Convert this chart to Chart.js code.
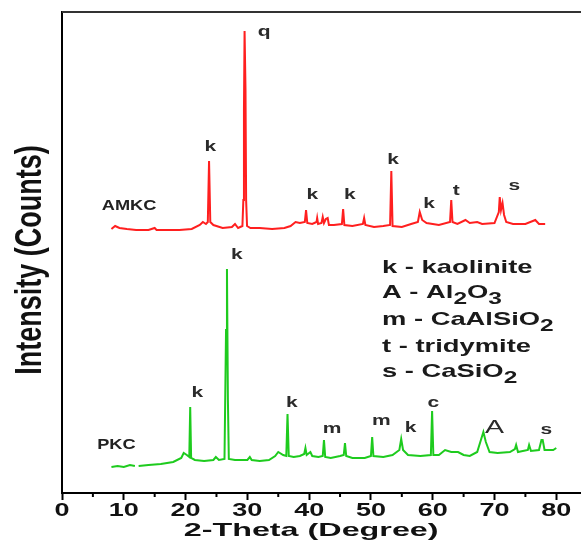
<!DOCTYPE html>
<html>
<head>
<meta charset="utf-8">
<title>XRD patterns</title>
<script src="https://cdn.jsdelivr.net/npm/chart.js@4.4.1/dist/chart.umd.min.js"></script>
<style>
  html, body { margin: 0; padding: 0; background: #fff; }
  canvas { display: block; }
</style>
</head>
<body>
<canvas id="chart" width="581" height="541"></canvas>
<script>
// 2-theta / intensity pairs for the two samples (counts are arbitrary, stacked offsets)
const amkcAngles = [8.0, 8.6, 9.3, 10.5, 12, 14, 15, 15.3, 17, 19, 21, 22.3, 22.8, 23.3, 23.6, 23.8, 24.0, 24.5,
  26, 27.5, 28, 28.5, 29.2, 29.35, 29.45, 29.55, 29.7, 29.8, 29.95, 30.5, 32, 34, 36, 37, 37.8, 38.5,
  39.3, 39.5, 39.7, 40.5, 41.2, 41.3, 41.45, 42.0, 42.2, 42.4, 42.7, 43.0, 43.2, 44, 45.3, 45.5, 45.7,
  47, 48.7, 48.9, 49.1, 50.5, 52, 53.1, 53.3, 53.5, 55, 56.5, 57.6, 57.9, 58.3, 59, 61, 62.8, 63.0, 63.2,
  64, 65.3, 66, 67.2, 68, 70, 70.7, 70.85, 71.05, 71.3, 71.55, 71.9, 73, 75, 76.6, 77.2, 78.2];
const amkcCounts = [2640, 2670, 2650, 2640, 2630, 2630, 2650, 2630, 2630, 2630, 2640, 2680, 2710, 2690, 2710, 3320, 2710, 2680,
  2650, 2660, 2690, 2650, 2670, 2930, 3830, 4620, 4030, 2930, 2670, 2650, 2650, 2640, 2650, 2670, 2710, 2700,
  2710, 2830, 2700, 2690, 2710, 2750, 2690, 2700, 2760, 2700, 2740, 2750, 2680, 2680, 2690, 2840, 2680,
  2670, 2690, 2750, 2680, 2660, 2670, 2680, 3220, 2670, 2660, 2690, 2710, 2810, 2730, 2700, 2680, 2710, 2930, 2710,
  2690, 2730, 2700, 2710, 2690, 2700, 2810, 2960, 2830, 2900, 2780, 2710, 2690, 2690, 2730, 2690, 2690];

const pkcAngles = [8.0, 9, 10, 11, 11.8, 12.1, 12.4, 14, 16, 18, 19.3, 19.7, 20.2, 20.6, 20.75, 20.9, 21.5, 23, 24.5,
  24.9, 25.4, 26.3, 26.55, 26.7, 26.85, 27.0, 28, 30, 30.4, 30.7, 32, 33.5, 34.5, 35.0, 35.8, 36.3, 36.5,
  36.7, 37.5, 38.5, 39.2, 39.4, 39.6, 40.2, 40.5, 41.5, 42.2, 42.4, 42.6, 43.5, 45, 45.6, 45.8, 46.0, 47,
  49, 50.0, 50.2, 50.4, 52, 53.5, 54.6, 54.9, 55.2, 56, 58, 59.7, 59.9, 60.1, 61, 62, 63, 64.1, 65, 66,
  67.2, 67.8, 68.2, 68.6, 69.2, 70.5, 72.5, 73.3, 73.5, 73.8, 75.4, 75.6, 75.9, 77.2, 77.6, 77.8, 78.1,
  79.5, 80.0];
const pkcCounts = [260, 270, 260, 280, 270, null, 270, 280, 290, 310, 350, 400, 380, 360, 860, 350, 330, 320, 330,
  360, 330, 340, 1630, 2240, 930, 340, 330, 330, 360, 330, 320, 330, 370, 410, 380, 370, 790,
  370, 360, 370, 390, 450, 380, 410, 370, 360, 370, 530, 360, 350, 370, 380, 500, 370, 350,
  350, 370, 560, 370, 360, 380, 430, 540, 430, 380, 370, 380, 820, 380, 380, 430, 410, 410, 380, 370,
  410, 530, 610, 510, 410, 400, 410, 440, 480, 410, 430, 480, 420, 430, 530, 530, 430,
  430, 450];

// phase letters marked above the peaks
const amkcMarks = ['k', 'q', 'k', 'k', 'k', 'k', 't', 's'];
const amkcMarkAngles = [24.0, 32.7, 40.5, 46.6, 53.6, 59.4, 63.8, 73.2];
const amkcMarkCounts = [3460, 4610, 2980, 2980, 3330, 2890, 3020, 3070];

const pkcMarks = ['k', 'k', 'k', 'm', 'm', 'k', 'c', 'A', 's'];
const pkcMarkAngles = [21.9, 28.3, 37.2, 43.7, 51.7, 56.4, 60.1, 70.0, 78.4];
const pkcMarkCounts = [1000, 2380, 900, 640, 720, 650, 900, 650, 630];

// sample names written next to each pattern
const sampleNames = ['AMKC', 'PKC'];
const sampleNameAngles = [10.85, 8.8];
const sampleNameCounts = [2870, 480];

// phase key, "_n" marks a subscript digit
const phaseKey = ['k - kaolinite', 'A - Al_2O_3', 'm - CaAlSiO_2', 't - tridymite', 's - CaSiO_2'];

const xTickValues = [0, 10, 20, 30, 40, 50, 60, 70, 80];
const xMinorTicks = [5, 15, 25, 35, 45, 55, 65, 75];

const toPoints = (xs, ys) => xs.map((x, i) => ({ x: x, y: ys[i] }));

// draw text squeezed/stretched along x
function wideText(ctx, str, x, y, font, sx, align, color) {
    ctx.save();
    ctx.font = font;
    ctx.fillStyle = color;
    ctx.textAlign = align;
    ctx.textBaseline = 'middle';
    ctx.translate(x, y);
    ctx.scale(sx, 1);
    ctx.fillText(str, 0, 0);
    ctx.restore();
}

const decorations = {
    id: 'decorations',
    afterDraw(chart) {
        const ctx = chart.ctx;
        const xs = chart.scales.x;
        const ys = chart.scales.y;
        const area = chart.chartArea;

        // frame line along the top
        ctx.save();
        ctx.strokeStyle = '#333';
        ctx.lineWidth = 2;
        ctx.beginPath();
        ctx.moveTo(area.left, area.top);
        ctx.lineTo(area.right, area.top);
        ctx.stroke();

        // short minor ticks between the major ones
        ctx.strokeStyle = '#000';
        ctx.lineWidth = 2;
        xMinorTicks.forEach(v => {
            const px = xs.getPixelForValue(v);
            ctx.beginPath();
            ctx.moveTo(px, area.bottom);
            ctx.lineTo(px, area.bottom + 4);
            ctx.stroke();
        });
        ctx.restore();

        // x tick labels and axis title
        xTickValues.forEach(v => {
            wideText(ctx, String(v), xs.getPixelForValue(v), 511, 'bold 18px "Liberation Sans", Arial, sans-serif', 1.5, 'center', '#111');
        });
        wideText(ctx, '2-Theta (Degree)', (xs.getPixelForValue(0) + xs.getPixelForValue(80)) / 2 + 2, 531,
            'bold 19px "Liberation Sans", Arial, sans-serif', 1.7, 'center', '#111');

        // y axis title
        ctx.save();
        ctx.translate(31, 260);
        ctx.rotate(-Math.PI / 2);
        ctx.scale(1, 1.35);
        ctx.font = 'bold 27px "Liberation Sans", Arial, sans-serif';
        ctx.fillStyle = '#111';
        ctx.textAlign = 'center';
        ctx.textBaseline = 'middle';
        ctx.fillText('Intensity (Counts)', 0, 0);
        ctx.restore();

        // peak letters
        const markFont = 'bold 15px "Liberation Sans", Arial, sans-serif';
        amkcMarks.forEach((m, i) => {
            wideText(ctx, m, xs.getPixelForValue(amkcMarkAngles[i]), ys.getPixelForValue(amkcMarkCounts[i]), markFont, 1.4, 'center', '#2b2b2b');
        });
        pkcMarks.forEach((m, i) => {
            const f = m === 'A' ? '19px "Liberation Sans", Arial, sans-serif' : markFont;
            wideText(ctx, m, xs.getPixelForValue(pkcMarkAngles[i]), ys.getPixelForValue(pkcMarkCounts[i]), f, m === 'A' ? 1.5 : 1.4, 'center', '#2b2b2b');
        });

        // sample names
        sampleNames.forEach((n, i) => {
            wideText(ctx, n, xs.getPixelForValue(sampleNameAngles[i]), ys.getPixelForValue(sampleNameCounts[i]),
                'bold 14px "Liberation Sans", Arial, sans-serif', 1.3, 'center', '#222');
        });

        // phase key with subscripts
        const keyX = 382;
        const keyY = [268, 293, 320, 347, 372];
        const sx = 1.44;
        phaseKey.forEach((line, i) => {
            const parts = line.split(/_(\d)/);
            let cx = keyX;
            ctx.save();
            ctx.fillStyle = '#1a1a1a';
            ctx.textBaseline = 'middle';
            parts.forEach((p, j) => {
                const sub = j % 2 === 1;
                ctx.font = sub ? 'bold 17px "Liberation Sans", Arial, sans-serif' : 'bold 19px "Liberation Sans", Arial, sans-serif';
                const w = ctx.measureText(p).width * sx;
                ctx.save();
                ctx.translate(cx, keyY[i] + (sub ? 6 : 0));
                ctx.scale(sx, 1);
                ctx.fillText(p, 0, 0);
                ctx.restore();
                cx += w;
            });
            ctx.restore();
        });
    }
};

new Chart(document.getElementById('chart'), {
    type: 'line',
    data: {
        datasets: [{
            label: 'AMKC',
            data: toPoints(amkcAngles, amkcCounts),
            borderColor: '#ff1f1f',
            borderWidth: 2,
            pointRadius: 0,
            tension: 0
        }, {
            label: 'PKC',
            data: toPoints(pkcAngles, pkcCounts),
            borderColor: '#1ecb1e',
            borderWidth: 2,
            pointRadius: 0,
            tension: 0,
            spanGaps: false
        }]
    },
    options: {
        responsive: false,
        animation: false,
        layout: { padding: { left: 62, top: 12, right: 0, bottom: 41 } },
        plugins: {
            legend: { display: false },
            tooltip: { enabled: false }
        },
        scales: {
            x: {
                type: 'linear',
                min: 0,
                max: 84,
                afterBuildTicks: s => { s.ticks = s.ticks.filter(t => t.value % 10 === 0 && t.value <= 80); },
                ticks: { display: false, stepSize: 10 },
                grid: { display: true, drawOnChartArea: false, drawTicks: true, tickLength: 7, tickWidth: 2, tickColor: '#000' },
                border: { display: true, color: '#000', width: 2 }
            },
            y: {
                min: 0,
                max: 4810,
                ticks: { display: false },
                grid: { display: false, drawTicks: false },
                border: { display: true, color: '#000', width: 2 }
            }
        }
    },
    plugins: [decorations]
});
</script>
</body>
</html>
